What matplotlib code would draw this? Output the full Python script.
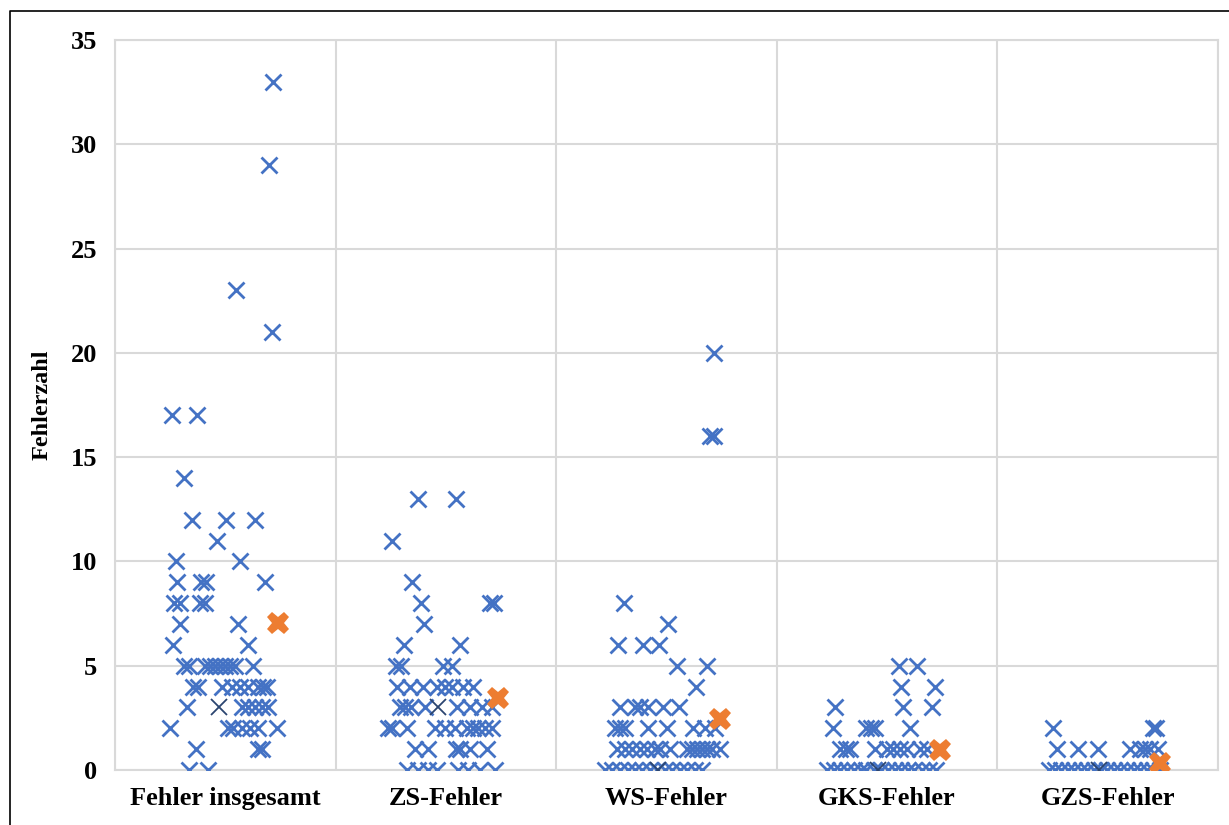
import matplotlib.pyplot as plt
from matplotlib.lines import Line2D

categories = ["Fehler insgesamt", "ZS-Fehler", "WS-Fehler", "GKS-Fehler", "GZS-Fehler"]

# values per category, with the horizontal jitter (fraction of category width)
gesamt_values = [33, 29, 23, 21, 17, 17, 14, 12, 12, 12, 11, 10, 10,
                 9, 9, 9, 9, 8, 8, 8, 8, 7, 7, 6, 6,
                 5, 5, 5, 5, 5, 5, 5, 5, 5, 5,
                 4, 4, 4, 4, 4, 4, 4, 4, 4,
                 3, 3, 3, 3, 3, 3,
                 2, 2, 2, 2, 2, 2, 2,
                 1, 1, 1, 0, 0]
gesamt_jitter = [0.216, 0.198, 0.049, 0.212, -0.242, -0.128, -0.187, -0.151, 0.003, 0.135, -0.038, -0.223, 0.067,
                 -0.219, -0.110, -0.087, 0.180, -0.233, -0.205, -0.115, -0.092, -0.205, 0.058, -0.237, 0.103,
                 -0.187, -0.165, -0.092, -0.069, -0.047, -0.024, -0.001, 0.021, 0.044, 0.126,
                 -0.146, -0.124, -0.015, 0.030, 0.067, 0.103, 0.148, 0.171, 0.189,
                 -0.174, 0.076, 0.103, 0.135, 0.166, 0.194,
                 -0.251, 0.012, 0.035, 0.076, 0.112, 0.148, 0.234,
                 -0.133, 0.148, 0.166, -0.165, -0.078]

zs_values = [13, 13, 11, 9, 8, 8, 8, 7, 6, 6,
             5, 5, 5, 5,
             4, 4, 4, 4, 4, 4, 4, 4,
             3, 3, 3, 3, 3, 3, 3, 3,
             2, 2, 2, 2, 2, 2, 2, 2, 2, 2, 2,
             1, 1, 1, 1, 1, 1,
             0, 0, 0, 0, 0, 0, 0, 0]
zs_jitter = [-0.126, 0.046, -0.244, -0.154, -0.113, 0.200, 0.218, -0.099, -0.190, 0.064,
             -0.226, -0.204, -0.013, 0.028,
             -0.222, -0.163, -0.104, -0.040, -0.004, 0.028, 0.078, 0.123,
             -0.208, -0.185, -0.158, -0.095, 0.050, 0.109, 0.164, 0.209,
             -0.262, -0.244, -0.177, -0.049, -0.004, 0.041, 0.096, 0.123, 0.146, 0.177, 0.209,
             -0.140, -0.081, 0.046, 0.064, 0.109, 0.186,
             -0.176, -0.126, -0.081, -0.040, 0.055, 0.100, 0.155, 0.223]

ws_values = [20, 16, 16, 8, 7, 6, 6, 6, 5, 5, 4,
             3, 3, 3, 3, 3, 3,
             2, 2, 2, 2, 2, 2, 2, 2,
             1, 1, 1, 1, 1, 1, 1, 1, 1, 1, 1, 1, 1, 1, 1,
             0, 0, 0, 0, 0, 0, 0, 0, 0, 0, 0, 0, 0, 0]
ws_jitter = [0.215, 0.197, 0.215, -0.193, 0.007, -0.220, -0.107, -0.034, 0.048, 0.184, 0.134,
             -0.211, -0.143, -0.120, -0.084, -0.016, 0.057,
             -0.233, -0.211, -0.188, -0.084, 0.002, 0.120, 0.175, 0.220,
             -0.224, -0.188, -0.156, -0.120, -0.088, -0.052, -0.029, 0.016, 0.093, 0.116, 0.138, 0.161, 0.184, 0.206, 0.243,
             -0.279, -0.247, -0.211, -0.175, -0.143, -0.111, -0.075, -0.043, -0.007, 0.025, 0.061, 0.093, 0.129, 0.161]

gks_values = [5, 5, 4, 4, 3, 3, 3,
              2, 2, 2, 2, 2,
              1, 1, 1, 1, 1, 1, 1, 1, 1, 1,
              0, 0, 0, 0, 0, 0, 0, 0, 0, 0, 0, 0, 0, 0, 0, 0, 0]
gks_jitter = [0.054, 0.135, 0.063, 0.217, -0.236, 0.072, 0.203,
              -0.245, -0.096, -0.073, -0.055, 0.104,
              -0.214, -0.186, -0.168, -0.055, 0.000, 0.027, 0.058, 0.090, 0.149, 0.180,
              -0.272, -0.241, -0.215, -0.183, -0.152, -0.118, -0.094, -0.061, -0.028, 0.004,
              0.035, 0.062, 0.097, 0.123, 0.156, 0.188, 0.221]

gzs_values = [2, 2, 2,
              1, 1, 1, 1, 1, 1, 1, 1,
              0, 0, 0, 0, 0, 0, 0, 0, 0, 0, 0, 0, 0, 0, 0, 0, 0, 0]
gzs_jitter = [-0.248, 0.205, 0.219,
              -0.230, -0.135, -0.044, 0.101, 0.146, 0.169, 0.192, 0.228,
              -0.268, -0.240, -0.212, -0.181, -0.155, -0.122, -0.096, -0.063, -0.031, -0.004,
              0.027, 0.058, 0.086, 0.117, 0.148, 0.176, 0.207, 0.236]

# one darker cross per category
dark_values = [3, 3, 0, 0, 0]
dark_jitter = [-0.029, -0.036, -0.040, -0.040, -0.040]

# mean markers (orange)
mean_values = [7.05, 3.45, 2.45, 0.95, 0.35]
mean_jitter = [0.239, 0.236, 0.243, 0.240, 0.237]

all_values = [gesamt_values, zs_values, ws_values, gks_values, gzs_values]
all_jitter = [gesamt_jitter, zs_jitter, ws_jitter, gks_jitter, gzs_jitter]

BLUE = "#4472C4"
ORANGE = "#ED7D31"
GRID = "#D9D9D9"

plt.rcParams["font.family"] = ["Liberation Serif", "DejaVu Serif"]
plt.rcParams["font.weight"] = "bold"

fig = plt.figure(figsize=(12.29, 8.25), dpi=100)
ax = fig.add_axes([115 / 1229, 55 / 825, 1103 / 1229, 730 / 825])

for i, (vals, jit) in enumerate(zip(all_values, all_jitter)):
    xs = [i + 0.5 + j for j in jit]
    ax.plot(xs, vals, linestyle="none", marker="x", ms=12, mew=2.0, color=BLUE, zorder=3)

ax.plot([i + 0.5 + j for i, j in enumerate(dark_jitter)], dark_values, linestyle="none",
        marker="x", ms=12, mew=1.3, color="#2B4570", zorder=4)
ax.plot([i + 0.5 + j for i, j in enumerate(mean_jitter)], mean_values, linestyle="none",
        marker="X", ms=16, mew=0, color=ORANGE, zorder=5)

ax.set_xlim(0, 5)
ax.set_ylim(0, 35)
ax.set_yticks(range(0, 36, 5))
ax.set_xticks(range(0, 6))
ax.set_xticklabels([])
ax.set_xticks([i + 0.5 for i in range(5)], minor=True)
ax.set_xticklabels(categories, minor=True)
ax.tick_params(axis="x", which="both", length=0, pad=12, labelsize=19)
ax.tick_params(axis="y", length=0, pad=13, labelsize=19)
ax.grid(True, which="major", color=GRID, linewidth=1.5)
ax.set_axisbelow(True)
for s in ax.spines.values():
    s.set_color(GRID)
    s.set_linewidth(1.5)

ax.set_ylabel("Fehlerzahl", fontsize=17.5, fontweight="bold")
ax.yaxis.set_label_coords(-0.057, 0.5)

# outer frame, visible on left and top
fig.add_artist(Line2D([10 / 1229, 10 / 1229, 1.0], [0.0, 1 - 11 / 825, 1 - 11 / 825],
                      transform=fig.transFigure, color="black", linewidth=1.2))

fig.savefig("out.png", dpi=100)
